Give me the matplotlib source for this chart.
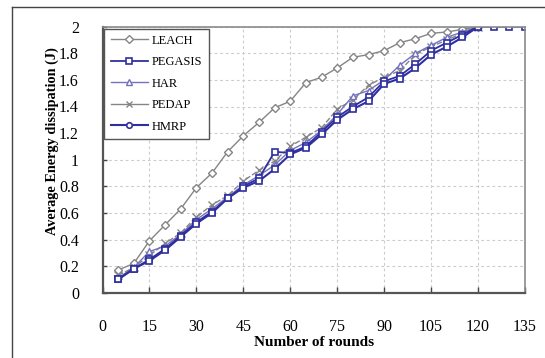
import matplotlib
matplotlib.use("Agg")
import matplotlib.pyplot as plt
from matplotlib.lines import Line2D

rounds = [5, 10, 15, 20, 25, 30, 35, 40, 45, 50, 55, 60, 65, 70, 75, 80,
          85, 90, 95, 100, 105, 110, 115, 120]
rounds_ext = rounds + [125, 130, 135]

leach = [0.17, 0.22, 0.39, 0.51, 0.63, 0.79, 0.90, 1.06, 1.18, 1.28, 1.39, 1.44,
         1.58, 1.62, 1.69, 1.77, 1.79, 1.82, 1.88, 1.91, 1.95, 1.96, 1.98, 2.00]
pegasis = [0.10, 0.18, 0.25, 0.33, 0.43, 0.53, 0.61, 0.71, 0.80, 0.86, 1.06, 1.05,
           1.10, 1.21, 1.32, 1.40, 1.47, 1.59, 1.63, 1.72, 1.82, 1.88, 1.94, 2.00,
           2.00, 2.00, 2.00]
har = [0.11, 0.19, 0.31, 0.35, 0.44, 0.55, 0.63, 0.72, 0.81, 0.88, 0.96, 1.07,
       1.13, 1.22, 1.34, 1.48, 1.52, 1.60, 1.71, 1.80, 1.86, 1.92, 1.96, 2.00]
pedap = [0.13, 0.19, 0.28, 0.37, 0.45, 0.57, 0.66, 0.73, 0.84, 0.92, 0.99, 1.10,
         1.17, 1.24, 1.38, 1.45, 1.56, 1.62, 1.67, 1.79, 1.85, 1.90, 1.95, 2.00]
hmrp = [0.10, 0.18, 0.24, 0.32, 0.42, 0.52, 0.60, 0.71, 0.79, 0.84, 0.93, 1.04,
        1.09, 1.19, 1.30, 1.38, 1.44, 1.57, 1.61, 1.69, 1.79, 1.85, 1.92, 2.00]

xticks = [0, 15, 30, 45, 60, 75, 90, 105, 120, 135]
yticks = [0, 0.2, 0.4, 0.6, 0.8, 1, 1.2, 1.4, 1.6, 1.8, 2]
ytick_labels = ["0", "0.2", "0.4", "0.6", "0.8", "1", "1.2", "1.4", "1.6", "1.8", "2"]

plt.rcParams['font.family'] = ['Liberation Serif', 'DejaVu Serif']

fig = plt.figure(figsize=(5.45, 3.58), dpi=100)
ax = fig.add_axes([102.5/545, 1-292.7/358, (525-102.5)/545, (292.7-26.7)/358])

grey = '#858585'
navy = '#2f2fa0'
lblue = '#7272c0'

ax.plot(rounds, leach, color=grey, lw=1.0, marker='D', ms=4, mfc='white', mec=grey, mew=1.0, label='LEACH')
ax.plot(rounds, pedap, color=grey, lw=1.0, ls=(0, (4, 1.5)), marker='x', ms=6, mec=grey, mew=1.0, label='PEDAP')
ax.plot(rounds, har, color=lblue, lw=1.0, marker='^', ms=4.5, mfc='white', mec=lblue, mew=1.0, label='HAR')
ax.plot(rounds_ext, pegasis, color=navy, lw=1.3, marker='s', ms=5, mfc='white', mec=navy, mew=1.2, label='PEGASIS')
ax.plot(rounds, hmrp, color=navy, lw=1.5, marker='s', ms=4.5, mfc='white', mec=navy, mew=1.2, label='HMRP')

ax.set_xlim(0, 135)
ax.set_ylim(0, 2)
ax.set_xticks(xticks)
ax.set_yticks(yticks)
ax.set_yticklabels(ytick_labels)
ax.tick_params(axis='both', direction='in', length=4, width=1, colors='#444444',
               labelcolor='black', labelsize=11.5)
ax.tick_params(axis='x', pad=19)
ax.tick_params(axis='y', length=3, pad=17)

ax.grid(True, color='#cccccc', ls=(0, (2.5, 2.5)), lw=0.8)
ax.set_axisbelow(True)

for s in ['left', 'bottom']:
    ax.spines[s].set_color('#555555')
    ax.spines[s].set_linewidth(1.6)
for s in ['top', 'right']:
    ax.spines[s].set_color('#8a8a8a')
    ax.spines[s].set_linewidth(1.2)

ax.set_xlabel('Number of rounds', fontsize=11, fontweight='bold', labelpad=1)
ax.set_ylabel('Average Energy dissipation (J)', fontsize=10.3, fontweight='bold')
ax.yaxis.set_label_coords(-0.102, 0.57)

handles = [
    Line2D([], [], color=grey, lw=1.0, marker='D', ms=4, mfc='white', mec=grey),
    Line2D([], [], color=navy, lw=1.3, marker='s', ms=5, mfc='white', mec=navy, mew=1.2),
    Line2D([], [], color=lblue, lw=1.0, marker='^', ms=4.5, mfc='white', mec=lblue),
    Line2D([], [], color=grey, lw=1.0, marker='x', ms=5, mec=grey),
    Line2D([], [], color=navy, lw=1.5, marker='o', ms=4, mfc='white', mec=navy, mew=1.2),
]
labels = ['LEACH', 'PEGASIS', 'HAR', 'PEDAP', 'HMRP']
leg = ax.legend(handles, labels, loc='upper left', bbox_to_anchor=(0.0, 1.0),
                borderaxespad=0.15, fancybox=False, framealpha=1, edgecolor='#555555',
                fontsize=9, handlelength=3.0, labelspacing=0.76, handletextpad=0.3,
                borderpad=0.5)
leg.get_frame().set_linewidth(1.0)

# outer frame (left and top edges)
fig.add_artist(Line2D([12/545, 12/545], [0, 1-7/358], color='#444444', lw=1.0,
                      transform=fig.transFigure))
fig.add_artist(Line2D([12/545, 1], [1-7/358, 1-7/358], color='#444444', lw=1.0,
                      transform=fig.transFigure))

fig.savefig('out.png', dpi=100)
